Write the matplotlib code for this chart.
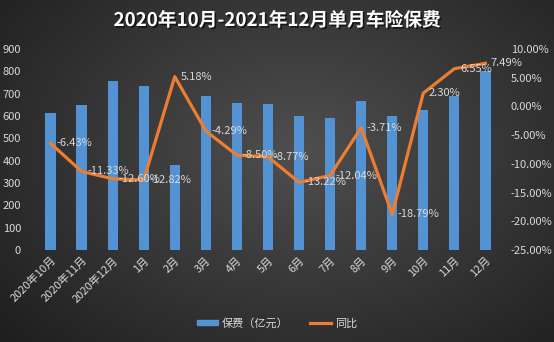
import numpy as np
import matplotlib
matplotlib.use('Agg')
import matplotlib.pyplot as plt
from matplotlib.patches import Patch
from matplotlib.lines import Line2D
import matplotlib.patheffects as pe

plt.rcParams['font.family'] = ['Noto Sans CJK SC', 'DejaVu Sans']

# data
months = ['2020年10月', '2020年11月', '2020年12月', '1月', '2月', '3月', '4月', '5月',
          '6月', '7月', '8月', '9月', '10月', '11月', '12月']
premium = [613, 649, 757, 734, 381, 687, 660, 654, 600, 591, 667, 600, 627, 687, 800]
yoy = [-6.43, -11.33, -12.60, -12.82, 5.18, -4.29, -8.50, -8.77,
       -13.22, -12.04, -3.71, -18.79, 2.30, 6.55, 7.49]

txt = '#d9d9d9'
fig = plt.figure(figsize=(5.54, 3.42), dpi=100)

# dark radial background
bg = fig.add_axes([0, 0, 1, 1], zorder=-10)
yy, xx = np.mgrid[0:342, 0:554]
r = np.sqrt(((xx - 300) / 420.0) ** 2 + ((yy - 150) / 300.0) ** 2)
shade = np.clip(0.31 - 0.2 * r, 0.11, 0.31)
bg.imshow(np.dstack([shade] * 3), aspect='auto', extent=[0, 1, 0, 1])
bg.axis('off')

ax = fig.add_axes([0.0632, 0.269, 0.841, 0.588])
ax.patch.set_alpha(0)
x = np.arange(len(months))
ax.bar(x, premium, width=0.33, color='#5393d3', zorder=2)
ax.set_ylim(0, 900)
ax.set_yticks(range(0, 901, 100))
ax.set_xlim(-0.5, len(months) - 0.5)
ax.set_xticks(x)
ax.set_xticklabels(months, rotation=45, ha='right', rotation_mode='anchor')
ax.tick_params(axis='both', colors=txt, labelsize=8, length=0)
ax.tick_params(axis='y', pad=10)
for s in ax.spines.values():
    s.set_visible(False)

ax2 = ax.twinx()
ax2.plot(x, yoy, color='#ed7d31', lw=2.3, zorder=3)
ax2.set_ylim(-25, 10)
ax2.set_yticks(range(-25, 11, 5))
ax2.set_yticklabels(['%.2f%%' % v for v in range(-25, 11, 5)])
ax2.tick_params(axis='y', colors=txt, labelsize=8, length=0, pad=7)
for s in ax2.spines.values():
    s.set_visible(False)
for i, v in enumerate(yoy):
    ax2.annotate('%.2f%%' % v, (i, v), xytext=(4, 0), textcoords='offset points',
                 ha='left', va='center', color=txt, fontsize=8)

fig.text(0.5, 0.94, '2020年10月-2021年12月单月车险保费', ha='center', va='center',
         color='white', fontsize=13.5, fontweight='bold',
         path_effects=[pe.withSimplePatchShadow(offset=(1.2, -1.2), shadow_rgbFace='black', alpha=0.6)])

handles = [Patch(color='#5393d3'), Line2D([0], [0], color='#ed7d31', lw=2.3)]
fig.legend(handles, ['保费（亿元）', '同比'], loc='center', bbox_to_anchor=(0.5, 0.055),
           ncol=2, frameon=False, fontsize=8, labelcolor=txt,
           handlelength=1.9, handleheight=0.3, handletextpad=0.3, columnspacing=2.0)

fig.savefig('out.png', dpi=100)
